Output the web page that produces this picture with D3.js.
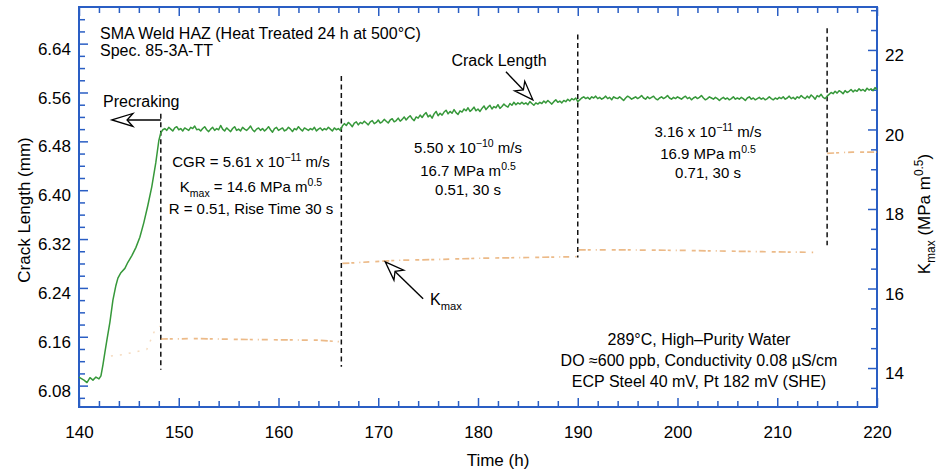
<!DOCTYPE html>
<html>
<head>
<meta charset="utf-8">
<script src="https://cdn.jsdelivr.net/npm/d3@7"></script>
<style>
  body { margin: 0; background: #fff; }
  svg { display: block; font-family: "Liberation Sans", Arial, Helvetica, sans-serif; }
</style>
</head>
<body>
<div class="chart"></div>
<script>
// Crack length / Kmax vs time, SMA weld HAZ

// precracking ramp (h, mm)
var riseTime = [140.0, 140.2, 140.5, 140.8, 141.1, 141.4, 141.7, 142.0, 142.2, 142.4, 142.6, 142.8, 143.1, 143.4,
  143.7, 143.9, 144.2, 144.6, 144.9, 145.3, 145.7, 146.1, 146.5, 146.9, 147.3, 147.7, 148.0];
var riseLength = [6.094, 6.092, 6.089, 6.085, 6.093, 6.089, 6.094, 6.091, 6.096, 6.114, 6.135, 6.155, 6.184, 6.220,
  6.244, 6.256, 6.265, 6.272, 6.282, 6.293, 6.306, 6.323, 6.347, 6.375, 6.406, 6.445, 6.481];

// constant-K growth, one reading every 0.2 h starting at 148.2 h (mm)
var growthStart = 148.2;
var growthStep = 0.2;
var growthLength = [
  // 148.2 - 166.2
  6.494, 6.499, 6.501, 6.498, 6.503, 6.500, 6.497, 6.502, 6.504, 6.499,
  6.501, 6.497, 6.502, 6.500, 6.498, 6.503, 6.501, 6.505, 6.499, 6.500,
  6.497, 6.501, 6.504, 6.499, 6.496, 6.500, 6.503, 6.498, 6.501, 6.499,
  6.506, 6.500, 6.497, 6.502, 6.499, 6.496, 6.501, 6.504, 6.498, 6.500,
  6.497, 6.503, 6.500, 6.498, 6.501, 6.505, 6.499, 6.496, 6.500, 6.502,
  6.498, 6.501, 6.497, 6.500, 6.504, 6.499, 6.495, 6.501, 6.503, 6.498,
  6.500, 6.502, 6.497, 6.499, 6.503, 6.500, 6.496, 6.501, 6.499, 6.504,
  6.500, 6.497, 6.502, 6.500, 6.498, 6.501, 6.499, 6.503, 6.497, 6.500,
  6.502, 6.498, 6.501, 6.499, 6.503, 6.500, 6.497, 6.502, 6.499, 6.501,
  6.498,
  // 166.4 - 190.0
  6.505, 6.509, 6.506, 6.511, 6.508, 6.504, 6.510, 6.512, 6.507, 6.511,
  6.509, 6.513, 6.510, 6.507, 6.512, 6.514, 6.509, 6.511, 6.515, 6.510,
  6.512, 6.516, 6.513, 6.510, 6.515, 6.517, 6.512, 6.514, 6.518, 6.513,
  6.516, 6.520, 6.515, 6.519, 6.522, 6.517, 6.514, 6.520, 6.518, 6.523,
  6.519, 6.524, 6.527, 6.520, 6.523, 6.518, 6.525, 6.529, 6.522, 6.526,
  6.523, 6.528, 6.531, 6.525, 6.529, 6.526, 6.532, 6.527, 6.524, 6.530,
  6.528, 6.533, 6.530, 6.535, 6.529, 6.532, 6.536, 6.530, 6.533, 6.529,
  6.534, 6.538, 6.532, 6.536, 6.539, 6.533, 6.537, 6.535, 6.540, 6.534,
  6.537, 6.541, 6.538, 6.536, 6.542, 6.539, 6.544, 6.540, 6.543, 6.541,
  6.544, 6.541, 6.543, 6.540, 6.545, 6.542, 6.539, 6.543, 6.541, 6.544,
  6.542, 6.546, 6.543, 6.547, 6.544, 6.541, 6.545, 6.548, 6.544, 6.546,
  6.543, 6.547, 6.545, 6.549, 6.546, 6.550, 6.548, 6.551, 6.545,
  // 190.2 - 215.0
  6.548, 6.551, 6.553, 6.550, 6.552, 6.549, 6.553, 6.551, 6.554, 6.550,
  6.552, 6.549, 6.551, 6.554, 6.550, 6.552, 6.548, 6.553, 6.551, 6.550,
  6.553, 6.550, 6.547, 6.551, 6.554, 6.552, 6.549, 6.551, 6.553, 6.550,
  6.552, 6.555, 6.551, 6.549, 6.553, 6.550, 6.552, 6.554, 6.550, 6.548,
  6.551, 6.553, 6.550, 6.552, 6.555, 6.551, 6.549, 6.552, 6.550, 6.553,
  6.551, 6.549, 6.552, 6.554, 6.550, 6.552, 6.548, 6.551, 6.553, 6.550,
  6.552, 6.555, 6.551, 6.548, 6.550, 6.553, 6.551, 6.549, 6.552, 6.550,
  6.547, 6.550, 6.552, 6.549, 6.551, 6.548, 6.550, 6.553, 6.549, 6.551,
  6.549, 6.552, 6.550, 6.547, 6.551, 6.553, 6.549, 6.551, 6.548, 6.550,
  6.552, 6.549, 6.551, 6.548, 6.550, 6.553, 6.550, 6.548, 6.551, 6.549,
  6.552, 6.550, 6.553, 6.549, 6.551, 6.554, 6.550, 6.552, 6.549, 6.553,
  6.551, 6.555, 6.552, 6.550, 6.554, 6.551, 6.556, 6.553, 6.549, 6.555,
  6.553, 6.557, 6.552, 6.550, 6.554,
  // 215.2 - 220.0
  6.557, 6.560, 6.558, 6.562, 6.559, 6.563, 6.561, 6.558, 6.563, 6.560,
  6.562, 6.565, 6.561, 6.564, 6.562, 6.566, 6.563, 6.565, 6.562, 6.567,
  6.564, 6.566, 6.563, 6.568, 6.565
];

// Kmax (MPa m^0.5); null marks a break between load steps
var kmaxTime = [148.2, 152, 156, 160, 164, 166.2, 166.3, 166.4, 172, 176, 180, 185, 189.9, 190.0,
  190.1, 195, 200, 205, 210, 213.6, 214.5, 215.0, 217.5, 220];
var kmaxValue = [14.73, 14.74, 14.72, 14.71, 14.70, 14.66, null, 16.63, 16.71, 16.73, 16.76, 16.78, 16.80, null,
  16.97, 16.97, 16.96, 16.94, 16.92, 16.91, null, 19.40, 19.43, 19.43];
var kmaxPreTime = [143.2, 144.4, 145.6, 146.8, 147.6, 148.1];
var kmaxPreValue = [14.30, 14.34, 14.40, 14.47, 14.95, 15.05];

// load-step boundaries (h) and the span of each dashed marker (mm)
var stepTime = [148.2, 166.3, 190.0, 215.0];
var stepTop = [6.525, 6.587, 6.655, 6.665];
var stepBottom = [6.106, 6.111, 6.290, 6.310];

// axis ticks
var timeTicks = [140, 150, 160, 170, 180, 190, 200, 210, 220];
var lengthTicks = [6.08, 6.16, 6.24, 6.32, 6.40, 6.48, 6.56, 6.64];
var kmaxTicks = [14, 16, 18, 20, 22];

var svgWidth = 941;
var svgHeight = 474;

var margin = {
  top: 7,
  right: 64,
  bottom: 67,
  left: 79
};

var width = svgWidth - margin.left - margin.right;
var height = svgHeight - margin.top - margin.bottom;

var axisColor = "#2a5ec4";
var font = "'Liberation Sans', Arial, Helvetica, sans-serif";

var svg = d3.select(".chart")
  .append("svg")
  .attr("width", svgWidth)
  .attr("height", svgHeight);

var chartGroup = svg.append("g")
  .attr("transform", `translate(${margin.left}, ${margin.top})`);

// scales
var xScale = d3.scaleLinear().domain([140, 220]).range([0, width]);
var yLeft = d3.scaleLinear().domain([6.045, 6.700]).range([height, 0]);
var yRight = d3.scaleLinear().domain([13.02, 23.08]).range([height, 0]);

var timeMinor = d3.range(142, 220, 2).filter(d => d % 10 !== 0);
var lengthMinor = d3.range(0, 32).map(i => +(6.06 + i * 0.02).toFixed(2))
  .filter(d => Math.round(d * 100) % 8 !== 0);
var kmaxMinor = d3.range(13.5, 23.01, 0.5).filter(d => d % 2 !== 0);

function styleAxis(g) {
  g.select(".domain").remove();
  g.attr("font-size", null).attr("font-family", null);
  g.selectAll(".tick line").attr("stroke", axisColor).attr("stroke-width", 1.5);
  g.selectAll(".tick text").attr("fill", "#000").style("font-size", "17px").style("font-family", font);
}

// bottom
chartGroup.append("g")
  .attr("transform", `translate(0, ${height})`)
  .call(d3.axisBottom(xScale).tickValues(timeTicks).tickSize(-9).tickPadding(19).tickFormat(d3.format("d")))
  .call(styleAxis);
chartGroup.append("g")
  .attr("transform", `translate(0, ${height})`)
  .call(d3.axisBottom(xScale).tickValues(timeMinor).tickSize(-6).tickFormat(""))
  .call(styleAxis);

// top
chartGroup.append("g")
  .call(d3.axisTop(xScale).tickValues(timeTicks).tickSize(-9).tickFormat(""))
  .call(styleAxis);
chartGroup.append("g")
  .call(d3.axisTop(xScale).tickValues(timeMinor).tickSize(-6).tickFormat(""))
  .call(styleAxis);

// left
chartGroup.append("g")
  .call(d3.axisLeft(yLeft).tickValues(lengthTicks).tickSize(-9).tickPadding(8).tickFormat(d3.format(".2f")))
  .call(styleAxis)
  .selectAll(".tick text").attr("dy", "0.62em");
chartGroup.append("g")
  .call(d3.axisLeft(yLeft).tickValues(lengthMinor).tickSize(-6).tickFormat(""))
  .call(styleAxis);

// right
chartGroup.append("g")
  .attr("transform", `translate(${width}, 0)`)
  .call(d3.axisRight(yRight).tickValues(kmaxTicks).tickSize(-9).tickPadding(8).tickFormat(d3.format("d")))
  .call(styleAxis)
  .selectAll(".tick text").attr("dy", "0.62em");
chartGroup.append("g")
  .attr("transform", `translate(${width}, 0)`)
  .call(d3.axisRight(yRight).tickValues(kmaxMinor).tickSize(-6).tickFormat(""))
  .call(styleAxis);

// frame
chartGroup.append("rect")
  .attr("width", width)
  .attr("height", height)
  .attr("fill", "none")
  .attr("stroke", axisColor)
  .attr("stroke-width", 2);

// step markers
chartGroup.selectAll(".step")
  .data(stepTime)
  .enter()
  .append("line")
  .attr("class", "step")
  .attr("x1", d => xScale(d))
  .attr("x2", d => xScale(d))
  .attr("y1", (d, i) => yLeft(stepTop[i]))
  .attr("y2", (d, i) => yLeft(stepBottom[i]))
  .attr("stroke", "#111")
  .attr("stroke-width", 1.5)
  .attr("stroke-dasharray", "5,3.5");

// Kmax trace
var kmaxData = kmaxTime.map((t, i) => ({ t: t, k: kmaxValue[i] }));
var kmaxPreData = kmaxPreTime.map((t, i) => ({ t: t, k: kmaxPreValue[i] }));
var kmaxLine = d3.line()
  .defined(d => d.k !== null)
  .x(d => xScale(d.t))
  .y(d => yRight(d.k));

chartGroup.append("path")
  .datum(kmaxPreData)
  .attr("d", kmaxLine)
  .attr("fill", "none")
  .attr("stroke", "#e8b070")
  .attr("stroke-width", 1.5)
  .attr("stroke-dasharray", "2,7")
  .attr("opacity", 0.45);

chartGroup.append("path")
  .datum(kmaxData)
  .attr("d", kmaxLine)
  .attr("fill", "none")
  .attr("stroke", "#e29548")
  .attr("stroke-width", 1.7)
  .attr("stroke-dasharray", "7,2,3,5,1,3,6,6,4,3")
  .attr("opacity", 0.65);

// crack length trace
var crackData = riseTime.map((t, i) => ({ t: t, v: riseLength[i] }))
  .concat(growthLength.map((v, i) => ({ t: growthStart + i * growthStep, v: v })));

chartGroup.append("path")
  .datum(crackData)
  .attr("d", d3.line().x(d => xScale(d.t)).y(d => yLeft(d.v)))
  .attr("fill", "none")
  .attr("stroke", "#36983a")
  .attr("stroke-width", 1.5)
  .attr("stroke-linejoin", "round");

// hollow arrows
function arrow(x1, y1, x2, y2, headLen, halfW) {
  var dx = x2 - x1, dy = y2 - y1;
  var len = Math.sqrt(dx * dx + dy * dy);
  var ux = dx / len, uy = dy / len;
  var bx = x2 - ux * headLen, by = y2 - uy * headLen;
  var nx = x2 - ux * headLen * 0.72, ny = y2 - uy * headLen * 0.72;
  chartGroup.append("line")
    .attr("x1", x1).attr("y1", y1).attr("x2", nx).attr("y2", ny)
    .attr("stroke", "#000").attr("stroke-width", 1.4);
  chartGroup.append("path")
    .attr("d", `M${x2},${y2}L${bx - uy * halfW},${by + ux * halfW}L${nx},${ny}L${bx + uy * halfW},${by - ux * halfW}Z`)
    .attr("fill", "#fff").attr("stroke", "#000").attr("stroke-width", 1.3)
    .attr("stroke-linejoin", "miter");
}

arrow(xScale(148.2), yLeft(6.515), xScale(143.3), yLeft(6.515), 21, 6.5);
arrow(xScale(182.8), yLeft(6.594), xScale(185.5), yLeft(6.548), 19, 7);
arrow(xScale(174.5), yRight(15.74), xScale(170.7), yRight(16.67), 19, 7);

// text with ^{sup} and _{sub}
function richText(x, y, str, size, anchor) {
  var t = svg.append("text")
    .attr("x", x).attr("y", y)
    .attr("text-anchor", anchor || "start")
    .style("font-family", font)
    .style("font-size", size + "px")
    .attr("fill", "#000");
  var shift = 0;
  str.split(/(\^\{[^}]*\}|_\{[^}]*\})/).forEach(function(p) {
    if (!p) return;
    var target = 0, txt = p, fs = size;
    if (p[0] === "^") { target = -0.42 * size; txt = p.slice(2, -1); fs = size * 0.7; }
    if (p[0] === "_") { target = 0.3 * size; txt = p.slice(2, -1); fs = size * 0.7; }
    t.append("tspan").attr("dy", target - shift).style("font-size", fs + "px").text(txt);
    shift = target;
  });
  return t;
}

richText(100, 39, "SMA Weld HAZ (Heat Treated 24 h at 500°C)", 16);
richText(100, 56, "Spec. 85-3A-TT", 16);
richText(103, 107, "Precraking", 16);
richText(499, 66, "Crack Length", 16, "middle");
richText(430, 305, "K_{max}", 16);

richText(251, 167, "CGR = 5.61 x 10^{−11} m/s", 15, "middle");
richText(251, 192, "K_{max} = 14.6 MPa m^{0.5}", 15, "middle");
richText(251, 214, "R = 0.51, Rise Time 30 s", 15, "middle");

richText(468, 153, "5.50 x 10^{−10} m/s", 15, "middle");
richText(468, 176, "16.7 MPa m^{0.5}", 15, "middle");
richText(468, 195, "0.51, 30 s", 15, "middle");

richText(708, 137, "3.16 x 10^{−11} m/s", 15, "middle");
richText(708, 159, "16.9 MPa m^{0.5}", 15, "middle");
richText(708, 178, "0.71, 30 s", 15, "middle");

richText(699, 345, "289°C, High–Purity Water", 16, "middle");
richText(699, 366, "DO ≈600 ppb, Conductivity 0.08 µS/cm", 16, "middle");
richText(699, 387, "ECP Steel 40 mV, Pt 182 mV (SHE)", 16, "middle");

// axis titles
richText(498, 466, "Time (h)", 17, "middle");
richText(0, 0, "Crack Length (mm)", 17, "middle")
  .attr("transform", "translate(30, 210) rotate(-90)");
richText(0, 0, "K_{max} (MPa m^{0.5})", 17, "middle")
  .attr("transform", "translate(930, 214) rotate(-90)");
</script>
</body>
</html>
